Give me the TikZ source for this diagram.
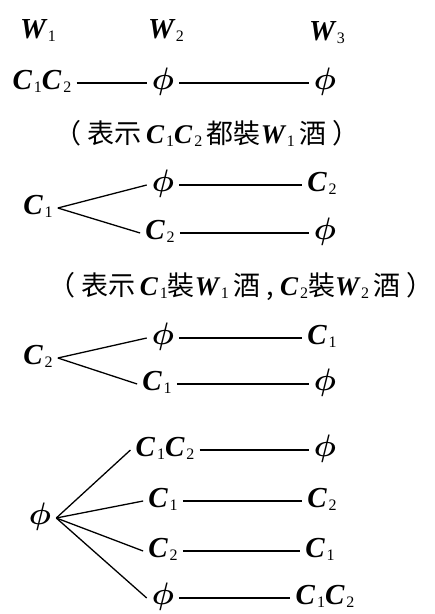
\documentclass[tikz,border=0pt]{standalone}
\usepackage{fontspec}
\newfontfamily\cjk{Noto Sans CJK TC}
\newfontfamily\tm{Liberation Serif}
\newcommand\V[2]{{\tm\bfseries\itshape #1}\kern2pt\raisebox{-3pt}{\tm\fontsize{16}{16}\selectfont #2}}
\newcommand\Ph{\scalebox{1.25}{\boldmath$\phi$}}
\begin{document}
\begin{tikzpicture}[x=1pt,y=1pt,
  lab/.style={inner sep=5pt,font=\fontsize{29}{32}\selectfont,text height=19pt,text depth=6pt},
  capt/.style={inner sep=0pt,font=\fontsize{27}{32}\selectfont},
  ln/.style={line width=1.3pt}]
\useasboundingbox (0,0) rectangle (435,-614);
% headers
\node[lab] (w1) at (38,-32) {\V{W}{1}};
\node[lab] (w2) at (166,-32) {\V{W}{2}};
\node[lab] (w3) at (327,-34) {\V{W}{3}};
% row 1
\node[lab] (r1a) at (42,-83) {\V{C}{1}\V{C}{2}};
\node[lab] (r1b) at (163,-83) {\Ph};
\node[lab] (r1c) at (325,-83) {\Ph};
\draw[ln] (r1a.east) -- (r1b.west);
\draw[ln] (r1b.east) -- (r1c.west);
\node[capt] (c1) at (207,-133) {\cjk \kern-.5em（\ 表示\,\V{C}{1}\V{C}{2}\,都裝\V{W}{1}\,酒\ ）\kern-.5em};
% tree 2
\node[lab] (t2r) at (38,-208) {\V{C}{1}};
\node[lab] (t2a) at (163,-185) {\Ph};
\node[lab] (t2b) at (322,-185) {\V{C}{2}};
\node[lab] (t2c) at (160,-233) {\V{C}{2}};
\node[lab] (t2d) at (325,-233) {\Ph};
\draw[ln] (t2r.east) -- (t2a.west);
\draw[ln] (t2r.east) -- (t2c.west);
\draw[ln] (t2a.east) -- (t2b.west);
\draw[ln] (t2c.east) -- (t2d.west);
\node[capt] (c2) at (241,-287) {\cjk \kern-.5em（\ 表示\,\V{C}{1}裝\V{W}{1}\,酒\ ,\ \V{C}{2}裝\V{W}{2}\,酒\ ）\kern-.5em};
% tree 3
\node[lab] (t3r) at (38,-358) {\V{C}{2}};
\node[lab] (t3a) at (163,-338) {\Ph};
\node[lab] (t3b) at (322,-338) {\V{C}{1}};
\node[lab] (t3c) at (157,-384) {\V{C}{1}};
\node[lab] (t3d) at (325,-384) {\Ph};
\draw[ln] (t3r.east) -- (t3a.west);
\draw[ln] (t3r.east) -- (t3c.west);
\draw[ln] (t3a.east) -- (t3b.west);
\draw[ln] (t3c.east) -- (t3d.west);
% tree 4
\node[lab] (t4r) at (40,-518) {\Ph};
\node[lab] (t4a) at (165,-450) {\V{C}{1}\V{C}{2}};
\node[lab] (t4b) at (325,-450) {\Ph};
\node[lab] (t4c) at (163,-501) {\V{C}{1}};
\node[lab] (t4d) at (322,-501) {\V{C}{2}};
\node[lab] (t4e) at (163,-551) {\V{C}{2}};
\node[lab] (t4f) at (320,-551) {\V{C}{1}};
\node[lab] (t4g) at (163,-598) {\Ph};
\node[lab] (t4h) at (325,-598) {\V{C}{1}\V{C}{2}};
\draw[ln] (t4r.east) -- (t4a.west);
\draw[ln] (t4r.east) -- (t4c.west);
\draw[ln] (t4r.east) -- (t4e.west);
\draw[ln] (t4r.east) -- (t4g.west);
\draw[ln] (t4a.east) -- (t4b.west);
\draw[ln] (t4c.east) -- (t4d.west);
\draw[ln] (t4e.east) -- (t4f.west);
\draw[ln] (t4g.east) -- (t4h.west);
\end{tikzpicture}
\end{document}
